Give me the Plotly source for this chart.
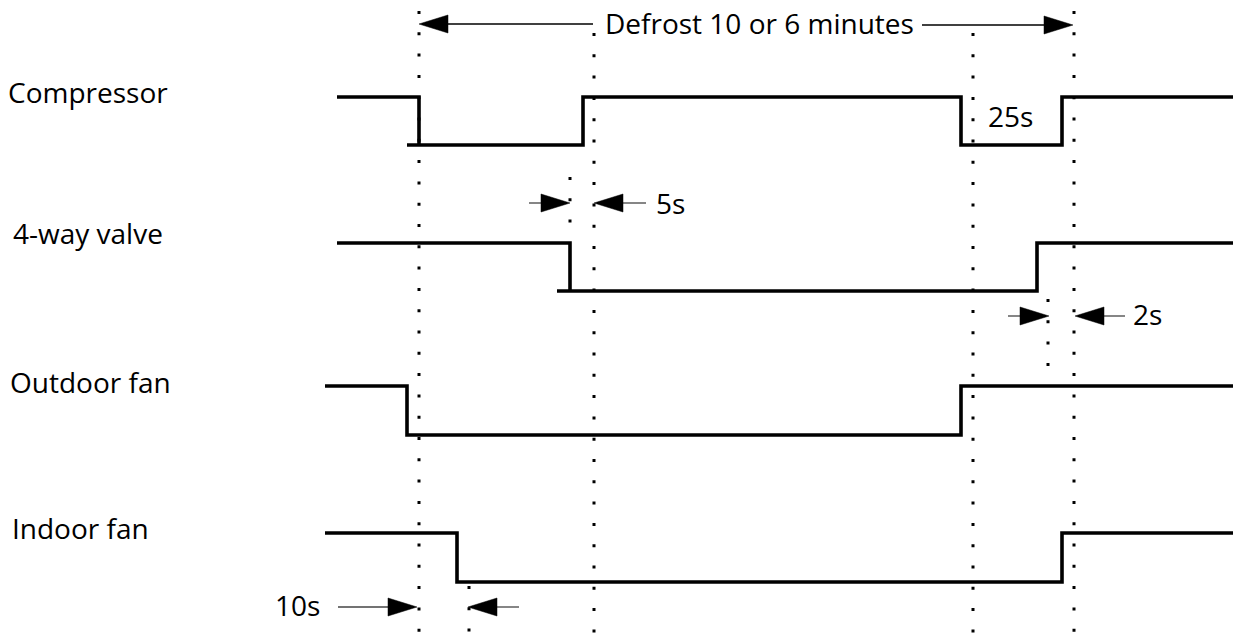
import plotly.graph_objects as go

# ---------------- data (pixel-time units) ----------------
row_labels = ["Compressor", "4-way valve", "Outdoor fan", "Indoor fan"]
row_label_y = [92, 233, 382, 528]
row_label_x = [6, 11, 8, 10]

# each signal: transition times and logic states (1 = on / high, 0 = off / low)
compressor_t = [337, 419, 419, 407, 583, 583, 961, 961, 1062, 1062, 1233]
compressor_s = [1, 1, 0, 0, 0, 1, 1, 0, 0, 1, 1]
valve_t = [337, 570, 570, 557, 1037, 1037, 1233]
valve_s = [1, 1, 0, 0, 0, 1, 1]
outdoor_t = [325, 407, 407, 961, 961, 1233]
outdoor_s = [1, 1, 0, 0, 1, 1]
indoor_t = [325, 457, 457, 1062, 1062, 1233]
indoor_s = [1, 1, 0, 0, 1, 1]
signal_high_y = [97, 243, 386, 533]
signal_low_y = [145, 291, 435, 582]

# dotted guide lines: x, top, bottom
guide_x = [419, 594, 973, 1074, 570, 1048, 469]
guide_top = [11, 33, 33, 11, 177, 299, 586]
guide_bottom = [633, 633, 633, 633, 224, 367, 633]

# dimension arrows: tip, tail, y
arrow_tip = [419, 1073, 570, 594, 1049, 1075, 417, 468]
arrow_tail = [593, 922, 529, 646, 1008, 1125, 338, 519]
arrow_y = [24, 25, 203, 203, 316, 316, 607, 607]
arrow_color = ["black", "black", "#444", "#444", "#444", "#444", "#444", "#444"]

# annotation texts
note_text = ["Defrost 10 or 6 minutes", "25s", "5s", "2s", "10s"]
note_x = [603, 986, 654, 1131, 273]
note_y = [23, 116, 203, 314, 605]

# ---------------- figure ----------------
W, H = 1233, 633
FONT = "Open Sans"
FS = 28
fig = go.Figure()

# dotted guides
for gx, gt, gb in zip(guide_x, guide_top, guide_bottom):
    fig.add_trace(go.Scatter(x=[gx, gx], y=[gt, gb], mode="lines",
                             line=dict(color="black", width=3, dash="3px,18.3px"),
                             hoverinfo="skip", showlegend=False))

# signals
signals = [(compressor_t, compressor_s), (valve_t, valve_s),
           (outdoor_t, outdoor_s), (indoor_t, indoor_s)]
for (t, s), hy, ly in zip(signals, signal_high_y, signal_low_y):
    ys = [hy if v else ly for v in s]
    fig.add_trace(go.Scatter(x=t, y=ys, mode="lines",
                             line=dict(color="black", width=3.6),
                             hoverinfo="skip", showlegend=False))

# arrows
HEAD_L, HEAD_H = 29, 9
tri_x, tri_y = [], []
for tip, tail, ay, col in zip(arrow_tip, arrow_tail, arrow_y, arrow_color):
    d = 1 if tip > tail else -1
    fig.add_trace(go.Scatter(x=[tail, tip - d * HEAD_L], y=[ay, ay], mode="lines",
                             line=dict(color=col, width=1.3),
                             hoverinfo="skip", showlegend=False))
    tri_x += [tip, tip - d * HEAD_L, tip - d * HEAD_L, tip, None]
    tri_y += [ay, ay - HEAD_H, ay + HEAD_H, ay, None]
fig.add_trace(go.Scatter(x=tri_x, y=tri_y, mode="lines", fill="toself",
                         fillcolor="black", line=dict(color="black", width=0.5),
                         hoverinfo="skip", showlegend=False))

annotations = []
for txt, lx, ly in zip(row_labels, row_label_x, row_label_y):
    annotations.append(dict(x=lx, y=ly, xref="x", yref="y", text=txt, showarrow=False,
                            xanchor="left", yanchor="middle",
                            font=dict(family=FONT, size=FS, color="black")))
for txt, lx, ly in zip(note_text, note_x, note_y):
    annotations.append(dict(x=lx, y=ly, xref="x", yref="y", text=txt, showarrow=False,
                            xanchor="left", yanchor="middle",
                            font=dict(family=FONT, size=FS, color="black")))

fig.update_layout(
    width=W, height=H,
    margin=dict(l=0, r=0, t=0, b=0),
    paper_bgcolor="white", plot_bgcolor="white",
    xaxis=dict(range=[0, W], visible=False, fixedrange=True),
    yaxis=dict(range=[H, 0], visible=False, fixedrange=True),
    annotations=annotations,
    showlegend=False,
)

fig.write_html(
    "out.html",
    config={"displayModeBar": False},
    post_script="document.body.style.margin='0px';document.body.style.overflow='hidden';",
)
